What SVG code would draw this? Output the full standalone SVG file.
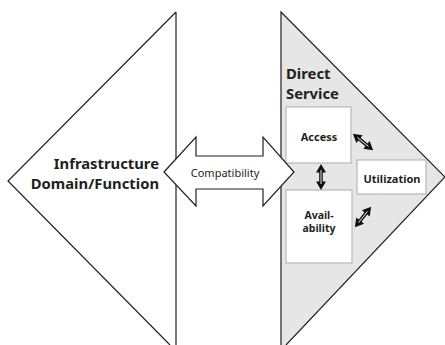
<svg xmlns="http://www.w3.org/2000/svg" width="445" height="345" viewBox="0 0 445 345">
<style>
.tri{stroke:#231f20;stroke-width:1.2;stroke-linejoin:miter}
.box{fill:#fff;stroke:#b8b8b8;stroke-width:1.2}
.big{font-family:"Noto Sans","Open Sans",sans-serif;font-weight:bold;font-size:14.8px;fill:#231f20}
.sm{font-family:"Noto Sans","Open Sans",sans-serif;font-weight:bold;font-size:11px;fill:#231f20;text-anchor:middle}
.lbl{font-family:"Noto Sans","Open Sans",sans-serif;font-size:11px;fill:#231f20;text-anchor:middle}
</style>
<defs>
<g id="dbl">
<path d="M-13,0 L-4.5,-5 L-4.5,-1.8 L4.5,-1.8 L4.5,-5 L13,0 L4.5,5 L4.5,1.8 L-4.5,1.8 L-4.5,5 Z" fill="#111"/>
<line x1="-7" y1="0" x2="7" y2="0" stroke="#fff" stroke-width="0.9"/>
</g>
</defs>
<rect width="445" height="345" fill="#fff"/>
<g id="infrastructure">
<path class="tri" d="M176,12 L176,345 M176,12 L8,181 L170,345" fill="#fff"/>
<text class="big" text-anchor="end"><tspan x="159" y="169">Infrastructure</tspan><tspan x="159" y="189">Domain/Function</tspan></text>
</g>
<g id="direct-service">
<path d="M281,345 L281,12 L445,177 L286,345 Z" fill="#e6e6e6"/>
<path class="tri" d="M281,345 L281,12 L445,177 L286,345" fill="none"/>
<text class="big"><tspan x="286" y="79">Direct</tspan><tspan x="286" y="99">Service</tspan></text>
</g>
<g id="access">
<rect class="box" x="286" y="107" width="65" height="56"/>
<text class="sm" x="319" y="141">Access</text>
</g>
<g id="availability">
<rect class="box" x="286" y="190" width="66" height="73"/>
<text class="sm" style="font-size:10.5px"><tspan x="319" y="219">Avail-</tspan><tspan x="319" y="231.5">ability</tspan></text>
</g>
<g id="utilization">
<rect class="box" x="357" y="160" width="69" height="34"/>
<text class="sm" x="392" y="183">Utilization</text>
</g>
<g id="connectors">
<g id="compatibility">
<path d="M164,172 L196,137 L196,156 L263,156 L263,137 L294,172 L263,206 L263,189 L196,189 L196,206 Z" fill="#fff" stroke="#231f20" stroke-width="1.2" stroke-linejoin="miter"/>
<text class="lbl" x="225" y="177">Compatibility</text>
</g>
<use href="#dbl" transform="translate(321,177) rotate(90)"/>
<use href="#dbl" transform="translate(363,142) rotate(38.7)"/>
<use href="#dbl" transform="translate(363,217) rotate(-51.3)"/>
</g>
</svg>
